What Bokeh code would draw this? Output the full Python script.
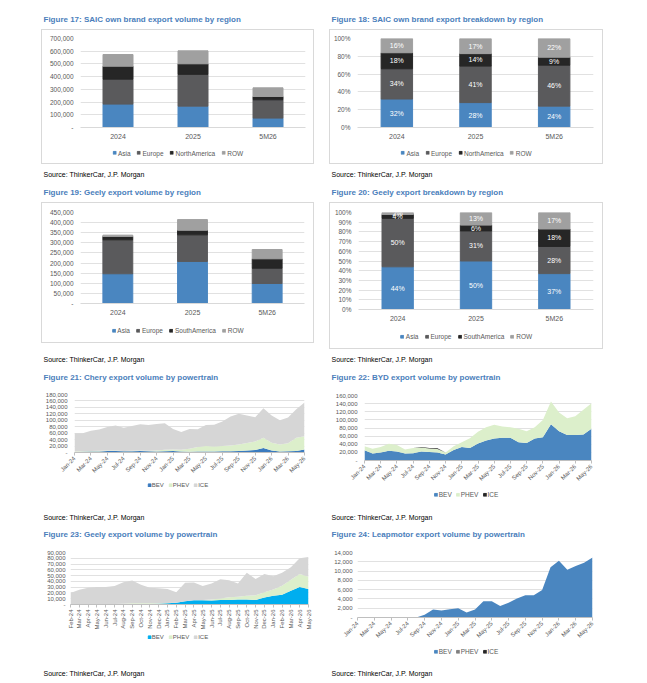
from math import pi
from bokeh.plotting import figure
from bokeh.layouts import row, column
from bokeh.models import (Range1d, FactorRange, Label, Legend, LegendItem, Spacer,
                          CustomJSTickFormatter, FixedTicker, ColumnDataSource)
from bokeh.core.properties import value
from bokeh.embed import file_html
from bokeh.resources import INLINE

FONT = "Liberation Sans Narrow, Arial Narrow, Liberation Sans, sans-serif"
BLUE_HEAD = "#4a7ebb"
GREY_TXT = "#595959"

# ---- data ----
years = ["2024", "2025", "5M26"]
regions_na = ["Asia", "Europe", "NorthAmerica", "ROW"]
regions_sa = ["Asia", "Europe", "SouthAmerica", "ROW"]
region_colors = ["#4a86c0", "#5a5a5c", "#262626", "#a0a0a0"]

saic_asia = [184000, 168000, 74000]
saic_europe = [196000, 250000, 144000]
saic_namerica = [102000, 83000, 26000]
saic_row = [92000, 102000, 68000]

saic_pct_asia = [32, 28, 24]
saic_pct_europe = [34, 41, 46]
saic_pct_namerica = [18, 14, 9]
saic_pct_row = [16, 17, 22]

geely_asia = [147000, 208000, 99000]
geely_europe = [168000, 131500, 75500]
geely_samerica = [16500, 22500, 46500]
geely_row = [6500, 53000, 46000]

geely_pct_asia = [44, 50, 37]
geely_pct_europe = [50, 31, 28]
geely_pct_samerica = [4, 6, 18]
geely_pct_row = [2, 13, 17]

months = ["Jan-24", "Feb-24", "Mar-24", "Apr-24", "May-24", "Jun-24", "Jul-24", "Aug-24",
          "Sep-24", "Oct-24", "Nov-24", "Dec-24", "Jan-25", "Feb-25", "Mar-25", "Apr-25",
          "May-25", "Jun-25", "Jul-25", "Aug-25", "Sep-25", "Oct-25", "Nov-25", "Dec-25",
          "Jan-26", "Feb-26", "Mar-26", "Apr-26", "May-26"]
geely_months = ["Feb-24", "Mar-24", "Apr-24", "May-24", "Jun-24", "Jul-24", "Aug-24",
                "Sep-24", "Oct-24", "Nov-24", "Dec-24", "Jan-25", "Feb-25", "Mar-25", "Apr-25",
                "May-25", "Jun-25", "Jul-25", "Aug-25", "Sep-25", "Oct-25", "Nov-25", "Dec-25",
                "Jan-26", "Feb-26", "Mar-26", "Apr-26", "May-26"]
powertrains = ["BEV", "PHEV", "ICE"]

chery_bev = [1000, 2000, 3000, 3000, 5000, 5000, 4000, 4000, 5000, 4000, 3000, 4000, 5000, 3000,
             2000, 3000, 3000, 3000, 4000, 4000, 5000, 6000, 8000, 14000, 6000, 3000, 4000, 5000, 9500]
chery_phev = [2000, 2000, 2000, 2500, 1000, 1000, 1000, 1500, 1000, 1500, 3000, 4500, 4500, 5500,
              9500, 14000, 17000, 16000, 16000, 18000, 20000, 23500, 26000, 31500, 24500, 22000,
              24500, 40500, 41000]
chery_ice = [57000, 56000, 62500, 65500, 73000, 78000, 72000, 76500, 81500, 79500, 82500, 82000,
             63500, 55500, 61500, 55000, 65000, 67000, 76000, 90000, 95000, 85500, 75500, 91500,
             84500, 75000, 80000, 88500, 104500]

byd_bev = [25000, 17000, 20000, 24000, 22000, 17000, 18000, 22000, 21000, 20000, 15000, 26000,
           33000, 31000, 42000, 49000, 54000, 56000, 56000, 45000, 43000, 54000, 57000, 89000,
           72000, 63000, 63000, 64000, 78000]
byd_phev = [10000, 12000, 13000, 17000, 16000, 10000, 12500, 10000, 8500, 8500, 4500, 9000,
            12000, 24000, 29000, 33000, 34000, 28000, 26000, 33000, 29000, 28000, 43000, 56000,
            46000, 41000, 46000, 61000, 63000]
byd_ice = [0, 0, 0, 0, 0, 0, 500, 1000, 1500, 1500, 500, 0, 0, 0, 0, 0, 0, 0, 0, 0, 0, 0, 0, 0,
           0, 0, 0, 0, 0]

geely_bev = [500, 500, 500, 500, 500, 500, 500, 500, 500, 1000, 1500, 2000, 3000, 5500, 7500,
             7500, 7000, 8000, 8000, 8500, 8500, 8000, 12000, 15000, 17000, 24000, 30500, 27000]
geely_phev = [500, 500, 500, 500, 500, 500, 1000, 1500, 1500, 1000, 500, 500, 0, 0, 0, 500, 1500,
              2500, 4500, 5000, 6500, 8000, 9000, 11000, 15500, 19000, 22500, 21000]
geely_ice = [19000, 24500, 28000, 29500, 29500, 31000, 37000, 39500, 32000, 27000, 26000, 24500,
             18000, 32000, 30500, 24000, 28000, 33000, 29500, 23000, 40000, 28000, 32000, 23000,
             22500, 21500, 27000, 34000]

leap_bev = [0, 0, 0, 0, 0, 0, 0, 0, 600, 1700, 1500, 1800, 2000, 1100, 1700, 3500, 3500, 2500,
            3200, 4100, 4800, 4800, 5900, 10800, 12200, 10300, 11100, 11800, 12900]
leap_phev = [0] * 29
leap_ice = [0] * 29

chery_colors = ["#3b7bbf", "#dcefcb", "#d6d6d6"]
byd_colors = ["#4a86c0", "#dcefcb", "#262626"]
geely_pt_colors = ["#00aeef", "#dcefcb", "#d6d6d6"]
leap_colors = ["#4a86c0", "#7f7f7f", "#262626"]

SOURCE = "Source: ThinkerCar, J.P. Morgan"

num_fmt = CustomJSTickFormatter(code="return tick == 0 ? '-' : tick.toLocaleString('en-US');")
pct_fmt = CustomJSTickFormatter(code="return tick + '%';")


def bare_fig(w, h):
    p = figure(width=w, height=h, x_range=(0, 1), y_range=(0, 1),
               toolbar_location=None, output_backend="svg", frame_align=False,
               x_axis_location=None, y_axis_location=None, min_border=0)
    p.outline_line_color = None
    p.grid.visible = False
    return p


def text_panel(txt, w, h, size, color, bold=False):
    p = bare_fig(w, h)
    p.add_layout(Label(x=1, y=h / 2, x_units="screen", y_units="screen", text=txt,
                       text_font=FONT, text_font_size=size, text_color=color,
                       text_font_style="bold" if bold else "normal",
                       text_baseline="middle"))
    return p


def heading(txt, w):
    return text_panel(txt, w, 14, "8px", BLUE_HEAD, bold=True)


def source(w, h=12):
    return text_panel(SOURCE, w, h, "7px", "black")


def legend_panel(w, h, names, colors, size="6.5px", spacing=6, standoff=2):
    # legend swatches come from empty (NaN) proxy bars, so nothing is drawn in the frame
    p = bare_fig(w, h)
    rs = [p.vbar(x=[float("nan")], top=[float("nan")], width=1, color=c) for c in colors]
    legend = Legend(items=[LegendItem(label=n, renderers=[r]) for n, r in zip(names, rs)],
                    location="center", orientation="horizontal", padding=0, margin=0,
                    spacing=spacing, label_standoff=standoff, glyph_width=4, glyph_height=4,
                    label_height=6, label_width=0, border_line_color=None,
                    background_fill_alpha=0, label_text_font=FONT,
                    label_text_font_size=size, label_text_color=GREY_TXT)
    p.add_layout(legend)
    return p


def base_fig(w, h, borders, x_range, y_range):
    left, right, top, bottom = borders
    p = figure(width=w, height=h, x_range=x_range, y_range=y_range,
               toolbar_location=None, output_backend="svg", frame_align=False,
               min_border_left=left, min_border_right=right,
               min_border_top=top, min_border_bottom=bottom)
    p.outline_line_color = None
    p.xgrid.visible = False
    p.ygrid.grid_line_color = "#d9d9d9"
    p.ygrid.grid_line_width = 0.8
    p.yaxis.axis_line_color = None
    p.yaxis.major_tick_line_color = None
    p.yaxis.minor_tick_line_color = None
    p.xaxis.minor_tick_line_color = None
    p.xaxis.axis_line_color = "#bfbfbf"
    for ax in (p.xaxis, p.yaxis):
        ax.major_label_text_font = FONT
        ax.major_label_text_color = GREY_TXT
    return p


def stacked_bars(w, h, borders, cols, names, ymax, step, pct):
    p = base_fig(w, h, borders, FactorRange(*years), Range1d(0, ymax))
    data = dict(cat=years)
    for n, c in zip(names, cols):
        data[n] = c
    p.vbar_stack(names, x="cat", width=0.4, color=region_colors,
                 source=ColumnDataSource(data))
    p.yaxis.ticker = FixedTicker(ticks=list(range(0, ymax + 1, step)))
    p.yaxis.formatter = pct_fmt if pct else num_fmt
    p.yaxis.major_tick_out = 0
    p.yaxis.major_label_standoff = 7
    p.yaxis.major_label_text_font_size = "6.5px"
    p.xaxis.major_tick_line_color = None
    p.xaxis.major_tick_out = 0
    p.xaxis.major_label_standoff = 5
    p.xaxis.major_label_text_font_size = "7px"
    p.xaxis.axis_line_color = "#d9d9d9"
    if pct:
        xs, ys, ts = [], [], []
        for i, cat in enumerate(years):
            base = 0
            for c in cols:
                xs.append(cat)
                ys.append(base + c[i] / 2)
                ts.append(f"{c[i]}%")
                base += c[i]
        p.text(x=xs, y=ys, text=ts, text_color="white", text_align="center",
               text_baseline="middle", text_font=value(FONT), text_font_size="7px")
    return p


def stacked_areas(w, h, borders, labels, cols, colors, ymax, step, every, angle,
                  y_standoff=7):
    n = len(labels)
    p = base_fig(w, h, borders, Range1d(0, n - 1), Range1d(0, ymax))
    data = dict(x=list(range(n)))
    for name, c in zip(powertrains, cols):
        data[name] = c
    p.varea_stack(powertrains, x="x", color=colors, source=ColumnDataSource(data))
    p.yaxis.ticker = FixedTicker(ticks=list(range(0, ymax + 1, step)))
    p.yaxis.formatter = num_fmt
    p.yaxis.major_tick_out = 0
    p.yaxis.major_label_standoff = y_standoff
    p.yaxis.major_label_text_font_size = "6px"
    p.xaxis.ticker = FixedTicker(ticks=list(range(0, n, every)))
    p.xaxis.formatter = CustomJSTickFormatter(args=dict(labels=labels),
                                              code="return labels[tick] || '';")
    p.xaxis.major_label_orientation = angle
    p.xaxis.major_tick_in = 0
    p.xaxis.major_tick_out = 3
    p.xaxis.major_tick_line_color = "#bfbfbf"
    p.xaxis.major_label_standoff = 2
    p.xaxis.major_label_text_font_size = "6px"
    return p


def boxed(*children):
    return column(*children, styles={"outline": "1px solid #d9d9d9"})


def gap(w, h):
    return Spacer(width=w, height=h)


LW, RW = 271, 272

p17 = stacked_bars(LW, 112, (38, 8, 8, 15),
                   [saic_asia, saic_europe, saic_namerica, saic_row], regions_na,
                   700000, 100000, False)
p18 = stacked_bars(RW, 112, (27, 9, 8, 14),
                   [saic_pct_asia, saic_pct_europe, saic_pct_namerica, saic_pct_row],
                   regions_na, 100, 20, True)
p19 = stacked_bars(LW, 115, (38, 9, 9, 12),
                   [geely_asia, geely_europe, geely_samerica, geely_row], regions_sa,
                   450000, 50000, False)
p20 = stacked_bars(RW, 121, (28, 9, 9, 12),
                   [geely_pct_asia, geely_pct_europe, geely_pct_samerica, geely_pct_row],
                   regions_sa, 100, 10, True)

p21 = stacked_areas(LW, 91, (30, 9, 7, 21), months, [chery_bev, chery_phev, chery_ice],
                    chery_colors, 180000, 20000, 2, pi / 4)
p22 = stacked_areas(RW, 99, (34, 11, 8, 23), months, [byd_bev, byd_phev, byd_ice],
                    byd_colors, 160000, 20000, 2, pi / 4)
p23 = stacked_areas(LW, 87, (28, 5, 7, 21), geely_months, [geely_bev, geely_phev, geely_ice],
                    geely_pt_colors, 90000, 10000, 1, pi / 2, y_standoff=5)
p24 = stacked_areas(RW, 98, (27, 10, 7, 21), months, [leap_bev, leap_phev, leap_ice],
                    leap_colors, 14000, 2000, 2, pi / 4, y_standoff=5)

left_col = column(
    gap(LW, 12), heading("Figure 17: SAIC own brand export volume by region", LW), gap(LW, 4),
    boxed(p17, legend_panel(LW, 21, regions_na, region_colors)),
    gap(LW, 5), source(LW), gap(LW, 5),
    heading("Figure 19: Geely export volume by region", LW), gap(LW, 4),
    boxed(p19, legend_panel(LW, 24, regions_sa, region_colors)),
    gap(LW, 11), source(LW), gap(LW, 5),
    heading("Figure 21: Chery export volume by powertrain", LW), gap(LW, 3),
    p21, legend_panel(LW, 14, powertrains, chery_colors, "6px", 4, 1),
    gap(LW, 19), source(LW), gap(LW, 4),
    heading("Figure 23: Geely export volume by powertrain", LW), gap(LW, 4),
    p23, legend_panel(LW, 10, powertrains, geely_pt_colors, "6px", 4, 1),
    gap(LW, 25), source(LW),
)
right_col = column(
    gap(RW, 12), heading("Figure 18: SAIC own brand export breakdown by region", RW), gap(RW, 4),
    boxed(p18, legend_panel(RW, 21, regions_na, region_colors)),
    gap(RW, 5), source(RW), gap(RW, 5),
    heading("Figure 20: Geely export breakdown by region", RW), gap(RW, 4),
    boxed(p20, legend_panel(RW, 24, regions_sa, region_colors)),
    gap(RW, 5), source(RW), gap(RW, 5),
    heading("Figure 22: BYD export volume by powertrain", RW), gap(RW, 3),
    p22, legend_panel(RW, 16, powertrains, byd_colors, "6.5px", 4, 1),
    gap(RW, 9), source(RW), gap(RW, 4),
    heading("Figure 24: Leapmotor export volume by powertrain", RW), gap(RW, 4),
    p24, legend_panel(RW, 16, powertrains, leap_colors, "6.5px", 4, 1),
    gap(RW, 8), source(RW),
)

page = row(gap(42, 10), left_col, gap(17, 10), right_col)

open("out.html", "w").write(file_html(page, INLINE))
